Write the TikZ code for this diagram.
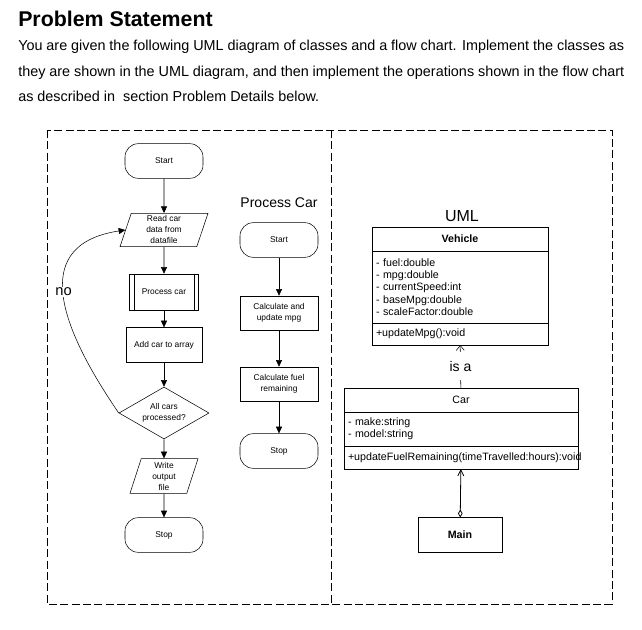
\documentclass[tikz,border=0pt]{standalone}
\usepackage{fontspec}
\setmainfont{Liberation Sans}
\usetikzlibrary{shapes.geometric, arrows, arrows.meta, positioning}
\newcommand\flowfont{\fontsize{6.3}{8.25}\selectfont}
\newcommand\umlfont{\fontsize{8}{9.2}\selectfont}
\tikzstyle{startstop} = [rectangle, rounded corners=10pt, minimum width=58.5pt, minimum height=26pt, align=center, draw=black, font=\flowfont]
\tikzstyle{io} = [trapezium, trapezium left angle=70, trapezium right angle=110, trapezium stretches body=true, minimum width=66pt, minimum height=25pt, inner sep=1pt, align=center, draw=black, font=\flowfont]
\tikzstyle{process} = [rectangle, minimum width=58.5pt, minimum height=25.5pt, align=center, draw=black, font=\flowfont]
\tikzstyle{decision} = [diamond, aspect=1.7, minimum width=67.5pt, minimum height=39pt, inner sep=0pt, align=center, draw=black, font=\flowfont]
\tikzstyle{classhead} = [rectangle, minimum height=18pt, outer sep=0pt, draw=black, font=\umlfont]
\tikzstyle{classbody} = [rectangle, align=left, inner xsep=3pt, outer sep=0pt, draw=black, font=\umlfont]
\tikzstyle{arrow} = [->, >={Triangle[length=5pt,width=4.5pt]}]
\tikzstyle{dashframe} = [dash pattern=on 6pt off 2.5pt]

\begin{document}
\begin{tikzpicture}[x=0.75pt, y=-0.75pt, node distance=46.5pt]
\useasboundingbox (0,0) rectangle (642,630);
\node (title) [anchor=base west, inner sep=0pt, font=\fontsize{16}{19}\bfseries] at (18,27) {Problem Statement};
\node (line1) [anchor=base west, inner sep=0pt, font=\fontsize{10.8}{13}\selectfont] at (18,51) {\makebox[454.5pt][s]{You are given the following UML diagram of classes and a flow chart. Implement the classes as}};
\node (line2) [anchor=base west, inner sep=0pt, font=\fontsize{10.8}{13}\selectfont] at (18,77) {\makebox[454.5pt][s]{they are shown in the UML diagram, and then implement the operations shown in the flow chart}};
\node (line3) [anchor=base west, inner sep=0pt, font=\fontsize{10.8}{13}\selectfont] at (18,102) {as described in~ section Problem Details below.};
\draw [dashframe] (47,130) rectangle (612,604);
\draw [dashframe] (331,130) -- (331,604);

\node (start) [startstop] at (164,161) {Start};
\node (read) [io, below of=start, yshift=-5.25pt] {Read car\\data from\\datafile};
\node (proc) [process, below of=read, minimum width=52pt, minimum height=27pt] {Process car};
\draw ([xshift=3.75pt]proc.north west) -- ([xshift=3.75pt]proc.south west);
\draw ([xshift=-3.75pt]proc.north east) -- ([xshift=-3.75pt]proc.south east);
\node (add) [process, below of=proc, yshift=6.75pt, minimum width=57pt, minimum height=26pt] {Add car to array};
\node (dec) [decision, below of=add, yshift=-4.5pt] {All cars\\processed?};
\node (write) [io, below of=dec, yshift=-0.75pt, minimum width=51pt, minimum height=26pt] {Write\\output\\file};
\node (stop) [startstop, below of=write, yshift=2.25pt] {Stop};
\draw [arrow] (start) -- (read);
\draw [arrow] (read) -- (proc);
\draw [arrow] (proc) -- (add);
\draw [arrow] (add) -- (dec);
\draw [arrow] (dec) -- (write);
\draw [arrow] (write) -- (stop);
\draw [arrow] (dec.west) .. controls (55,320) and (33,244) .. (read.west) node[pos=0.5, fill=white, inner sep=1pt, font=\fontsize{11}{13}\selectfont] {no};

\node (start2) [startstop, right of=read, xshift=39.75pt, yshift=-7.5pt] {Start};
\node (pctitle) [above of=start2, yshift=-18.75pt, font=\fontsize{10.5}{12}\selectfont] {Process Car};
\node (calcmpg) [process, below of=start2, yshift=-8.25pt] {Calculate and\\update mpg};
\node (calcfuel) [process, below of=calcmpg, yshift=-6.75pt] {Calculate fuel\\remaining};
\node (stop2) [startstop, below of=calcfuel, yshift=-3.75pt] {Stop};
\draw [arrow] (start2) -- (calcmpg);
\draw [arrow] (calcmpg) -- (calcfuel);
\draw [arrow] (calcfuel) -- (stop2);

\node (umltitle) [font=\fontsize{12}{14}\selectfont] at (462,216) {UML};
\node (vehHead) [classhead, minimum width=132pt, font=\umlfont\bfseries] at (460,239) {Vehicle};
\node (vehAttr) [classbody, text width=126pt, minimum height=54pt, below=0pt of vehHead] {- fuel:double\\- mpg:double\\- currentSpeed:int\\- baseMpg:double\\- scaleFactor:double};
\node (vehOps) [classbody, text width=126pt, minimum height=16.5pt, below=0pt of vehAttr] {+updateMpg():void};
\node (carHead) [classhead, minimum width=175.5pt] at (461,400) {Car};
\node (carAttr) [classbody, text width=169.5pt, minimum height=25.5pt, below=0pt of carHead] {- make:string\\- model:string};
\node (carOps) [classbody, text width=169.5pt, minimum height=17.25pt, below=0pt of carAttr] {\mbox{+updateFuelRemaining(timeTravelled:hours):void}};
\node (main) [classhead, minimum width=63pt, minimum height=26.25pt, font=\umlfont\bfseries] at (460,535) {Main};
\draw [-{Straight Barb[length=3.75pt,width=6pt]}] (carHead) -- node[fill=white, minimum height=21pt, font=\fontsize{10.5}{12}\selectfont] {is a} (vehOps);
\draw [semithick, {Diamond[open,length=6pt,width=3.5pt]}-{Straight Barb[length=4.5pt,width=4.5pt]}] (main) -- (carOps);
\end{tikzpicture}
\end{document}
